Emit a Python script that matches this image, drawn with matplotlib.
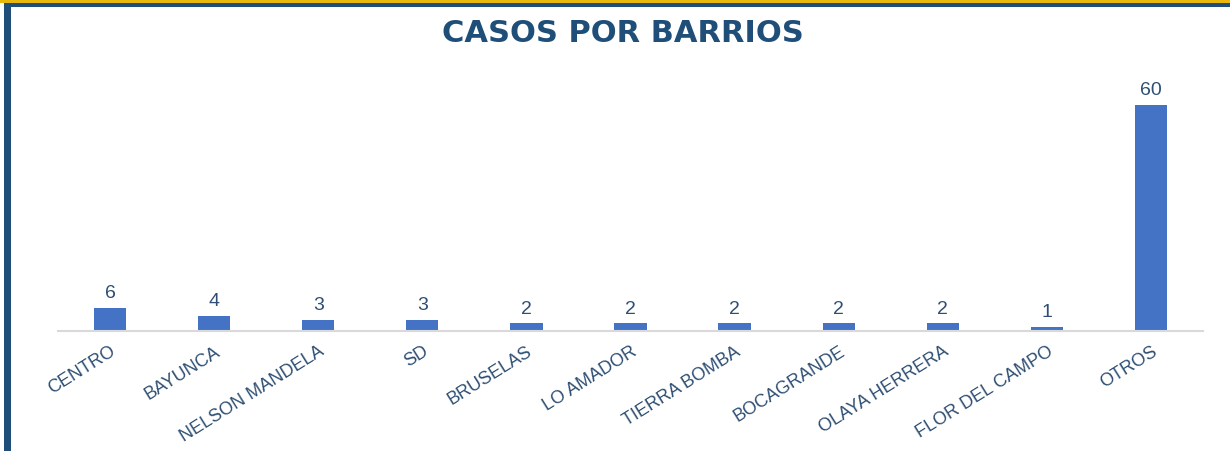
import matplotlib
matplotlib.use("Agg")
import matplotlib.pyplot as plt
import matplotlib.patches as mpatches
import numpy as np

barrios = ["CENTRO", "BAYUNCA", "NELSON MANDELA", "SD", "BRUSELAS",
           "LO AMADOR", "TIERRA BOMBA", "BOCAGRANDE", "OLAYA HERRERA",
           "FLOR DEL CAMPO", "OTROS"]
casos = [6, 4, 3, 3, 2, 2, 2, 2, 2, 1, 60]

plt.rcParams['font.family'] = ['Liberation Sans', 'DejaVu Sans']

BAR = "#4472C4"
DARK = "#1F4E79"
TXT = "#2E4F73"

fig = plt.figure(figsize=(12.3, 4.52), dpi=100)

# frame decorations: yellow + dark blue band on top, dark blue bar on left
fig.add_artist(mpatches.Rectangle((0, 1 - 4 / 452), 1, 4 / 452,
                                  transform=fig.transFigure,
                                  facecolor="#E8B80C", edgecolor="none"))
fig.add_artist(mpatches.Rectangle((4 / 1230, 1 - 8 / 452), 1, 4 / 452,
                                  transform=fig.transFigure,
                                  facecolor="#1F4E79", edgecolor="none"))
fig.add_artist(mpatches.Rectangle((4 / 1230, 0), 7 / 1230, 1 - 4 / 452,
                                  transform=fig.transFigure,
                                  facecolor="#1F4E79", edgecolor="none"))

ax = fig.add_axes([58 / 1230, 1 - 332 / 452, (1203 - 58) / 1230, 248.6 / 452])
x = np.arange(len(barrios))
ax.bar(x, casos, width=0.31, color=BAR, zorder=2)
for xi, v in zip(x, casos):
    ax.annotate(str(v), (xi, v), xytext=(0, 5), textcoords="offset points",
                ha="center", va="bottom", fontsize=14, color=TXT)

ax.set_xlim(-0.5, len(barrios) - 0.5)
ax.set_ylim(0, 66)
ax.set_yticks([])
ax.set_xticks(x)
ax.set_xticklabels(barrios, rotation=32, ha="right", va="top",
                   rotation_mode="anchor", fontsize=13, color=TXT)
ax.tick_params(axis="x", length=0, pad=8)
for s in ("top", "right", "left"):
    ax.spines[s].set_visible(False)
ax.spines["bottom"].set_color("#D9D9D9")
ax.spines["bottom"].set_linewidth(1.5)

fig.text(623 / 1230, 1 - 33 / 452, "CASOS POR BARRIOS", ha="center",
         va="center", fontsize=22, fontweight="bold", color=DARK,
         family="DejaVu Sans")

fig.savefig("out.png", dpi=100)
